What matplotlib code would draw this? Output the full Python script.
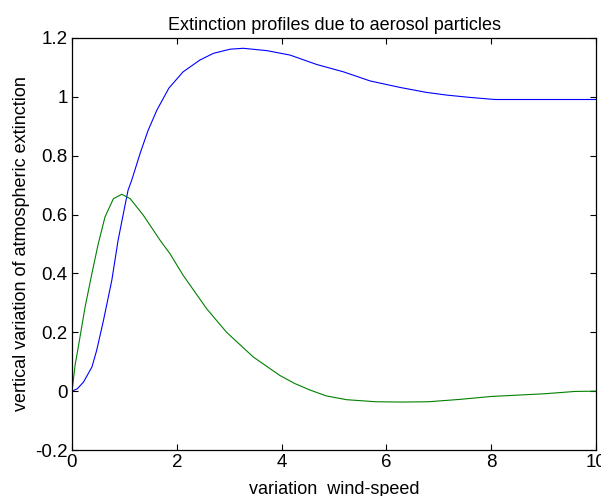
import numpy as np
import matplotlib.pyplot as plt

plt.rcParams['font.family'] = ['Liberation Sans', 'DejaVu Sans']

# blue curve
x_blue = [0.0, 0.1, 0.22, 0.38, 0.47, 0.60, 0.76, 0.88, 0.98, 1.07, 1.14, 1.30,
          1.45, 1.62, 1.85, 2.12, 2.44, 2.70, 3.02, 3.27, 3.72, 4.16, 4.67,
          5.18, 5.69, 6.26, 6.77, 7.15, 7.6, 8.07, 9.0, 10.0]
y_blue = [0.0, 0.008, 0.031, 0.082, 0.138, 0.24, 0.377, 0.513, 0.603, 0.683, 0.717, 0.808,
          0.885, 0.955, 1.03, 1.085, 1.125, 1.148, 1.162, 1.165, 1.157, 1.142, 1.110,
          1.085, 1.054, 1.032, 1.015, 1.006, 0.998, 0.991, 0.991, 0.991]

# green curve
x_green = [0.0, 0.06, 0.12, 0.25, 0.38, 0.50, 0.63, 0.79, 0.95, 1.11, 1.36, 1.68, 1.87,
           2.12, 2.57, 2.95, 3.46, 3.97, 4.25, 4.54, 4.85, 5.24, 5.8, 6.3, 6.8, 7.4, 8.0,
           9.0, 9.6, 10.0]
y_green = [0.0, 0.09, 0.15, 0.286, 0.40, 0.50, 0.592, 0.654, 0.669, 0.654, 0.598, 0.513, 0.467,
           0.394, 0.28, 0.20, 0.116, 0.053, 0.026, 0.004, -0.016, -0.029, -0.036, -0.037, -0.036,
           -0.028, -0.018, -0.009, -0.001, 0.0]

fig = plt.figure(figsize=(6.01, 4.96), dpi=100)
ax = fig.add_axes([0.1198, 0.0927, 0.8719, 0.8307])

ax.plot(x_blue, y_blue, color='#0000ff', lw=0.8)
ax.plot(x_green, y_green, color='#008000', lw=0.8)

ax.set_xlim(0, 10)
ax.set_ylim(-0.2, 1.2)
ax.set_xticks([0, 2, 4, 6, 8, 10])
ax.set_xticklabels(['0', '2', '4', '6', '8', '10'])
ax.set_yticks([-0.2, 0, 0.2, 0.4, 0.6, 0.8, 1, 1.2])
ax.set_yticklabels(['-0.2', '0', '0.2', '0.4', '0.6', '0.8', '1', '1.2'])
ax.tick_params(direction='in', top=True, right=True, length=4, width=0.8,
               labelsize=13.5, pad=3)
for s in ax.spines.values():
    s.set_linewidth(0.9)

ax.set_title('Extinction profiles due to aerosol particles', fontsize=13, pad=6)
ax.set_xlabel('variation  wind-speed', fontsize=13, labelpad=7)
ax.set_ylabel('vertical variation of atmospheric extinction', fontsize=13, labelpad=4)

fig.savefig('out.png', dpi=100)
